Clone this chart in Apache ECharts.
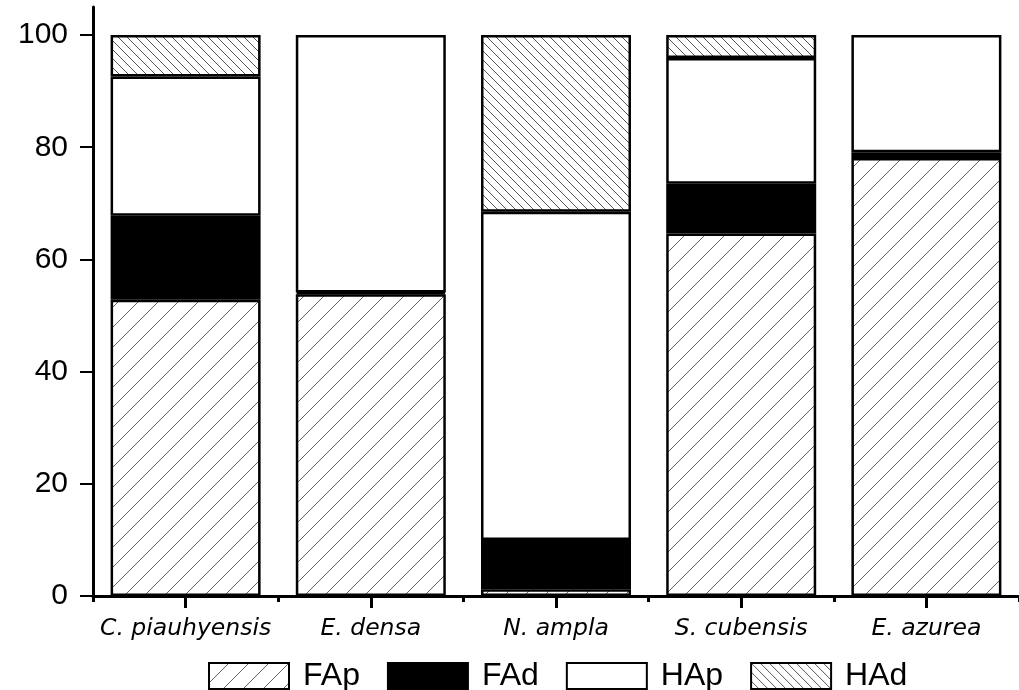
<!DOCTYPE html>
<html>
<head>
<meta charset="utf-8">
<script src="https://cdn.jsdelivr.net/npm/echarts@6/dist/echarts.min.js"></script>
<style>
  html, body { margin: 0; padding: 0; background: #fff; }
  #chart { width: 1019px; height: 690px; }
</style>
</head>
<body>
<div id="chart"></div>
<script>
// Species on the x axis
const species = ['C. piauhyensis', 'E. densa', 'N. ampla', 'S. cubensis', 'E. azurea'];
// Stacked percentages per species
const fap = [52.8, 53.8, 1.2, 64.6, 78.1];
const fad = [15.0, 0.3, 8.8, 8.9, 1.0];
const hap = [24.8, 45.9, 58.5, 22.4, 20.9];
const had = [7.4, 0, 31.5, 4.1, 0];
const yTicks = [0, 20, 40, 60, 80, 100];

// Repeating hatch fill: '/' or '\' lines on white
function hatch(size, dir, color) {
  const c = document.createElement('canvas');
  c.width = size; c.height = size;
  const ctx = c.getContext('2d');
  ctx.fillStyle = '#fff';
  ctx.fillRect(0, 0, size, size);
  ctx.strokeStyle = color;
  ctx.lineWidth = 1;
  ctx.beginPath();
  for (const k of [-size, 0, size]) {
    if (dir === '/') {
      ctx.moveTo(k, size); ctx.lineTo(k + size, 0);
    } else {
      ctx.moveTo(k, 0); ctx.lineTo(k + size, size);
    }
  }
  ctx.stroke();
  return { image: c, repeat: 'repeat' };
}

const chart = echarts.init(document.getElementById('chart'), null, { renderer: 'canvas' });

function seg(name, data, color) {
  return {
    name, type: 'bar', stack: 'total', barWidth: 150,
    // empty segments are left out so they add no extra outline
    data: data.map(v => (v === 0 ? '-' : v)),
    itemStyle: { color, borderColor: '#000', borderWidth: 2.5 },
    emphasis: { disabled: true }
  };
}

const tickStyle = { color: '#000', width: 3 };

chart.setOption({
  animation: false,
  backgroundColor: '#fff',
  grid: { left: 93, top: 7, width: 932, bottom: 94, containLabel: false },
  legend: {
    left: 208, top: 660, padding: 0,
    itemWidth: 80, itemHeight: 26, itemGap: 27,
    icon: 'rect',
    textStyle: { fontFamily: 'Liberation Sans', fontSize: 32, color: '#000', padding: [0, 0, 0, 9] },
    data: ['FAp', 'FAd', 'HAp', 'HAd']
  },
  xAxis: [
    {
      type: 'category', data: species, position: 'bottom',
      axisLine: { lineStyle: { color: '#000', width: 3 } },
      axisTick: { show: true, interval: 0, alignWithLabel: true, length: 12, lineStyle: tickStyle },
      axisLabel: { interval: 0, fontFamily: 'DejaVu Sans', fontStyle: 'italic', fontSize: 23.5, color: '#000', margin: 21 }
    },
    {
      type: 'category', data: species, position: 'bottom',
      axisLine: { show: false },
      axisTick: { show: true, interval: 0, length: 6, lineStyle: tickStyle },
      axisLabel: { show: false }
    }
  ],
  yAxis: {
    type: 'value', min: 0, max: 105,
    splitLine: { show: false },
    axisLine: { show: true, lineStyle: { color: '#000', width: 3 } },
    axisTick: { show: true, length: 13, customValues: yTicks, lineStyle: { color: '#000', width: 2 } },
    axisLabel: { customValues: yTicks, fontFamily: 'Liberation Sans', fontSize: 30, color: '#000', margin: 25 }
  },
  series: [
    seg('FAp', fap, hatch(20, '/', '#666')),
    seg('FAd', fad, '#000'),
    seg('HAp', hap, '#fff'),
    seg('HAd', had, hatch(9, '\\', '#555'))
  ]
});
</script>
</body>
</html>
